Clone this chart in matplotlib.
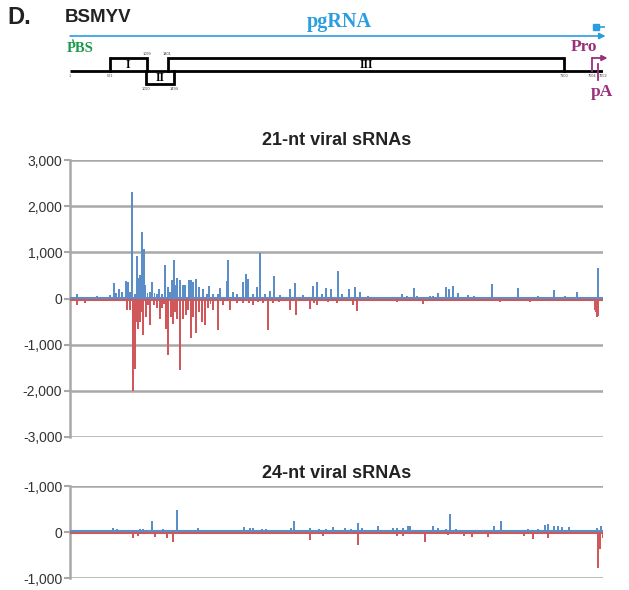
import numpy as np
import matplotlib.pyplot as plt

plt.rcParams['font.family'] = ['Liberation Sans', 'DejaVu Sans']

# ── genome map (BSMYV) ──
GENOME_LEN = 7652
orf_names = ["I", "II", "III"]
orf_start = [571, 1090, 1401]
orf_end = [1099, 1494, 7100]
orf_side = [1, -1, 1]                 # 1 = above genome line, -1 = below
pos_top = [1099, 1401]                # coordinates written above the line
pos_bottom = [1, 571, 1090, 1494, 7100, 7504, 7652]

# ── 21-nt vsRNA counts (genome position in nt, reads) ──
pos21_plus = [100, 390, 575, 630, 660, 705, 745, 805, 835, 860, 890, 935, 960, 990, 1005,
              1035, 1065, 1075, 1110, 1150, 1180, 1215, 1250, 1280, 1320, 1365, 1405, 1435,
              1465, 1495, 1520, 1535, 1580, 1625, 1650, 1710, 1740, 1765, 1810, 1850, 1910,
              1965, 1995, 2055, 2125, 2155, 2255, 2270, 2340, 2400, 2485, 2525, 2555, 2630,
              2685, 2730, 2800, 2870, 2930, 3015, 3160, 3230, 3345, 3490, 3545, 3620, 3675,
              3750, 3850, 3905, 4005, 4095, 4165, 4280, 4770, 4840, 4940, 4985, 5170, 5215,
              5285, 5400, 5440, 5500, 5570, 5715, 5800, 6060, 6160, 6230, 6275, 6435, 6650,
              6720, 6895, 6950, 7110, 7280, 7510, 7580]
val21_plus = [90, 50, 70, 330, 120, 200, 150, 380, 350, 150, 2300, 100, 930, 450, 500,
              1440, 1070, 300, 120, 150, 350, 120, 100, 200, 100, 720, 250, 150,
              400, 830, 300, 450, 400, 300, 300, 400, 400, 350, 420, 250, 200,
              100, 270, 100, 100, 220, 380, 830, 150, 100, 350, 520, 430, 100,
              250, 980, 100, 170, 490, 80, 200, 330, 80, 280, 350, 100, 220,
              200, 590, 100, 200, 250, 150, 50, 100, 50, 220, 50, 60, 60,
              120, 250, 200, 280, 120, 80, 50, 320, 40, 40, 40, 220, 40,
              50, 40, 180, 60, 130, 40, 650]
pos21_minus = [100, 215, 820, 860, 905, 935, 960, 975, 1005, 1035, 1050, 1090, 1120, 1150,
               1205, 1250, 1290, 1320, 1350, 1380, 1405, 1450, 1480, 1510, 1535, 1580, 1625,
               1665, 1695, 1740, 1765, 1810, 1850, 1895, 1940, 1980, 2020, 2055, 2125, 2195,
               2300, 2400, 2485, 2570, 2630, 2700, 2770, 2845, 2915, 3000, 3160, 3245, 3445,
               3505, 3545, 3705, 3835, 4065, 4120, 4280, 4525, 4695, 5070, 5200, 5430, 5645,
               5745, 6175, 6605, 6705, 6865, 7135, 7295, 7540, 7555, 7570, 7580]
val21_minus = [-130, -100, -250, -250, -2000, -1520, -500, -650, -500, -300, -780, -400, -150,
               -580, -150, -200, -450, -200, -120, -650, -1220, -400, -550, -300, -450, -1550,
               -450, -350, -250, -850, -400, -750, -300, -500, -580, -200, -120, -250, -680,
               -150, -250, -100, -100, -100, -150, -80, -100, -680, -100, -80, -250, -350,
               -230, -100, -150, -80, -100, -150, -280, -50, -60, -80, -110, -50, -50, -50,
               -50, -80, -70, -40, -40, -40, -50, -250, -300, -400, -380]

# ── 24-nt vsRNA counts ──
pos24_plus = [615, 675, 730, 835, 875, 1005, 1050, 1180, 1335, 1395, 1535, 1725, 1840, 1895,
              2010, 2500, 2585, 2630, 2755, 2815, 2885, 3045, 3175, 3215, 3445, 3575, 3675,
              3775, 3950, 4035, 4135, 4195, 4320, 4425, 4640, 4695, 4780, 4855, 4880, 4955,
              5010, 5215, 5285, 5400, 5455, 5545, 6090, 6190, 6460, 6575, 6720, 6820, 6865,
              6950, 7010, 7065, 7165, 7280, 7570, 7625]
val24_plus = [90, 60, 40, 50, 40, 60, 60, 230, 60, 40, 470, 30, 80, 40,
              50, 100, 80, 80, 70, 70, 40, 40, 80, 250, 80, 60, 60,
              110, 80, 70, 200, 80, 50, 140, 80, 90, 80, 120, 130, 50,
              40, 120, 80, 60, 400, 60, 120, 230, 50, 60, 70, 150, 180,
              120, 120, 100, 100, 50, 80, 120]
pos24_minus = [45, 160, 645, 820, 905, 975, 1075, 1220, 1395, 1480, 1780, 2010, 2240, 2470,
               2755, 3045, 3330, 3445, 3635, 3805, 4135, 4205, 4495, 4695, 4780, 5100, 5240,
               5430, 5660, 5775, 6005, 6290, 6520, 6650, 6865, 7035, 7340, 7580, 7610, 7645]
val24_minus = [-30, -30, -30, -40, -120, -80, -40, -100, -120, -220, -30, -40, -30, -50,
               -40, -30, -30, -180, -80, -30, -280, -40, -40, -80, -80, -220, -40,
               -60, -80, -110, -100, -40, -80, -150, -130, -40, -30, -780, -370, -120]

yticks21 = [3000, 2000, 1000, 0, -1000, -2000, -3000]
ylabels21 = ["3,000", "2,000", "1,000", "0", "-1,000", "-2,000", "-3,000"]
yticks24 = [1000, 0, -1000]
ylabels24 = ["-1,000", "0", "-1,000"]

BLUE = "#5b8ec8"
RED = "#d0575a"
GRID = "#a8a8a8"
W, H = 629, 590
XMAX = 7655

fig = plt.figure(figsize=(W / 100, H / 100), dpi=100)

# ── genome diagram ──
ax0 = fig.add_axes([70 / W, 1 - 100 / H, 533 / W, 100 / H])
ax0.set_xlim(0, XMAX)
ax0.set_ylim(100, 0)
ax0.axis("off")

fig.text(7 / W, 1 - 18 / H, "D.", fontsize=17, fontweight="bold", va="center", color="#222222")
fig.text(65 / W, 1 - 17 / H, "BSMYV", fontsize=13.5, fontweight="bold", va="center", color="#222222")

ax0.text(GENOME_LEN * 0.505, 22, "pgRNA", color="#2a9de0", fontsize=14.5, fontweight="bold",
         family="Liberation Serif", ha="center", va="center")
ax0.annotate("", xy=(GENOME_LEN + 40, 36), xytext=(1, 36), annotation_clip=False,
             arrowprops=dict(arrowstyle="-|>", color="#2a9de0", lw=1.2,
                             mutation_scale=9, shrinkA=0, shrinkB=0))
ax0.plot([7560, 7680], [27, 27], color="#2a9de0", lw=1.2, solid_capstyle="butt", clip_on=False)
ax0.plot([7560], [27], marker="s", ms=4.5, color="#2a9de0", clip_on=False)

ax0.text(-40, 49, "PBS", color="#1a9a48", fontsize=10.5, fontweight="bold",
         family="Liberation Serif", ha="left", va="center")
ax0.plot([40, 55], [40, 43], color="#1a9a48", lw=1, clip_on=False)

ax0.plot([1, GENOME_LEN], [71, 71], color="black", lw=2, solid_capstyle="butt")
for name, s, e, side in zip(orf_names, orf_start, orf_end, orf_side):
    yb = 71 - 13 * side
    ax0.plot([s, s, e, e], [71, yb, yb, 71], color="black", lw=2, solid_joinstyle="miter")
    ax0.text((s + e) / 2, (71 + yb) / 2 + 0.5, name, fontsize=8.5, fontweight="bold",
             family="Liberation Serif", ha="center", va="center")
for p in pos_top:
    ax0.text(p, 54, str(p), fontsize=2.8, ha="center", va="center", color="#444444")
for p in pos_bottom:
    ytxt = 89 if p in (1090, 1494) else 76
    ax0.text(p, ytxt, str(p), fontsize=2.8, ha="center", va="center", color="#444444")

PURPLE = "#9a2f7c"
ax0.text(7380, 47, "Pro", color=PURPLE, fontsize=12.5, fontweight="bold",
         family="Liberation Serif", ha="center", va="center")
ax0.plot([7504, 7504], [71, 58], color=PURPLE, lw=1.3)
ax0.annotate("", xy=(7720, 58), xytext=(7504, 58), annotation_clip=False,
             arrowprops=dict(arrowstyle="-|>", color=PURPLE, lw=1.3,
                             mutation_scale=8, shrinkA=0, shrinkB=0))
ax0.plot([7580, 7580], [64, 80], color=PURPLE, lw=1.3, clip_on=False)
ax0.text(7640, 92, "pA", color=PURPLE, fontsize=12.5, fontweight="bold",
         family="Liberation Serif", ha="center", va="center")


def style_axis(ax, ticks, labels, lim):
    ax.set_xlim(0, XMAX)
    ax.set_ylim(-lim, lim)
    ax.set_yticks(ticks)
    ax.set_yticklabels(labels)
    ax.set_xticks([])
    for t in ticks:
        ax.axhline(t, color=GRID, lw=1.8, zorder=0)
    for s in ["top", "right", "bottom"]:
        ax.spines[s].set_visible(False)
    ax.spines["left"].set_color(GRID)
    ax.spines["left"].set_linewidth(1.8)
    ax.tick_params(axis="y", direction="out", length=4, width=1.5, color=GRID,
                   labelsize=10, labelcolor="#333333", pad=1.5)


# ── 21-nt panel ──
ax1 = fig.add_axes([70 / W, 1 - 437 / H, 533 / W, 277 / H])
style_axis(ax1, yticks21, ylabels21, 3000)
ax1.bar(pos21_plus, val21_plus, width=22, color=BLUE, lw=0, zorder=2)
ax1.bar(pos21_minus, val21_minus, width=22, color=RED, lw=0, zorder=2)
ax1.plot([0, XMAX], [-25, -25], color=RED, lw=1.5, zorder=3)
ax1.plot([0, XMAX], [20, 20], color=BLUE, lw=1.5, zorder=3)
ax1.text(0.5, 1 + 19 / 277, "21-nt viral sRNAs", transform=ax1.transAxes,
         fontsize=13, fontweight="bold", ha="center", va="center", color="#222222")

# ── 24-nt panel ──
ax2 = fig.add_axes([70 / W, 1 - 578 / H, 533 / W, 92 / H])
style_axis(ax2, yticks24, ylabels24, 1000)
ax2.bar(pos24_plus, val24_plus, width=22, color=BLUE, lw=0, zorder=2)
ax2.bar(pos24_minus, val24_minus, width=22, color=RED, lw=0, zorder=2)
ax2.plot([0, XMAX], [-25, -25], color=RED, lw=1.5, zorder=3)
ax2.plot([0, XMAX], [20, 20], color=BLUE, lw=1.5, zorder=3)
ax2.text(0.5, 1 + 13 / 92, "24-nt viral sRNAs", transform=ax2.transAxes,
         fontsize=13, fontweight="bold", ha="center", va="center", color="#222222")

fig.savefig("out.png", dpi=100)
